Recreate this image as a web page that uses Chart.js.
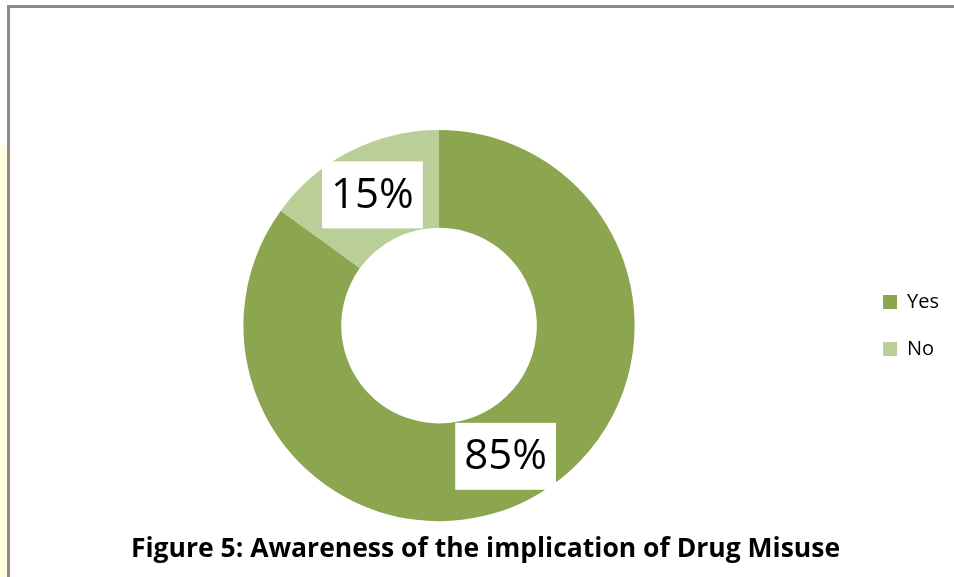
<!DOCTYPE html>
<html>
<head>
<meta charset="utf-8">
<script src="https://cdn.jsdelivr.net/npm/chart.js@4.4.1/dist/chart.umd.min.js"></script>
<style>
  html, body { margin: 0; padding: 0; background: #fff; }
  body { width: 954px; height: 577px; position: relative; overflow: hidden; }
  #strip { position: absolute; left: 0; top: 145px; width: 7px; height: 432px; background: #ffffe0; }
  #frame { position: absolute; left: 7px; top: 5px; width: 1000px; height: 700px;
           border-top: 3px solid #8c8c8c; border-left: 3px solid #8c8c8c; }
  #wrap { position: absolute; left: 0; top: 0; width: 954px; height: 577px; }
</style>
</head>
<body>
<div id="strip"></div>
<div id="frame"></div>
<div id="wrap"><canvas id="grafico"></canvas></div>
<script>
// datos del grafico
const categorias = ['Yes', 'No'];
const porcentajes = [85, 15];
const colores = ['#8ba64f', '#b9cf97'];
const titulo = 'Figure 5: Awareness of the implication of Drug Misuse';

// etiquetas con fondo blanco en el centro de cada sector
const etiquetasPlugin = {
    id: 'etiquetas',
    afterDatasetsDraw(chart) {
        const ctx = chart.ctx;
        const meta = chart.getDatasetMeta(0);
        ctx.save();
        ctx.font = '42px "Open Sans"';
        ctx.textAlign = 'center';
        ctx.textBaseline = 'middle';
        meta.data.forEach((arc, i) => {
            const p = arc.getCenterPoint();
            const txt = porcentajes[i] + '%';
            const w = ctx.measureText(txt).width + 18;
            const h = 67;
            ctx.fillStyle = '#ffffff';
            ctx.fillRect(p.x - w / 2, p.y - h / 2, w, h);
            ctx.fillStyle = '#000000';
            ctx.fillText(txt, p.x, p.y + 1);
        });
        ctx.restore();
    }
};

new Chart(document.getElementById('grafico'), {
    type: 'doughnut',
    data: {
        labels: categorias,
        datasets: [{
            data: porcentajes,
            backgroundColor: colores,
            borderWidth: 0
        }]
    },
    options: {
        responsive: true,
        maintainAspectRatio: false,
        animation: false,
        cutout: '50%',
        layout: { padding: { top: 130, bottom: 0, left: 22, right: 5 } },
        plugins: {
            tooltip: { enabled: false },
            legend: {
                position: 'right',
                fullSize: false,
                labels: {
                    boxWidth: 14,
                    boxHeight: 14,
                    padding: 27,
                    color: '#000',
                    font: { family: '"Open Sans"', size: 20 }
                }
            },
            title: {
                display: true,
                position: 'bottom',
                text: titulo,
                color: '#000',
                padding: { top: 12, bottom: 12 },
                font: { family: '"Open Sans"', size: 26.5, weight: 'bold' }
            }
        }
    },
    plugins: [etiquetasPlugin]
});
</script>
</body>
</html>
